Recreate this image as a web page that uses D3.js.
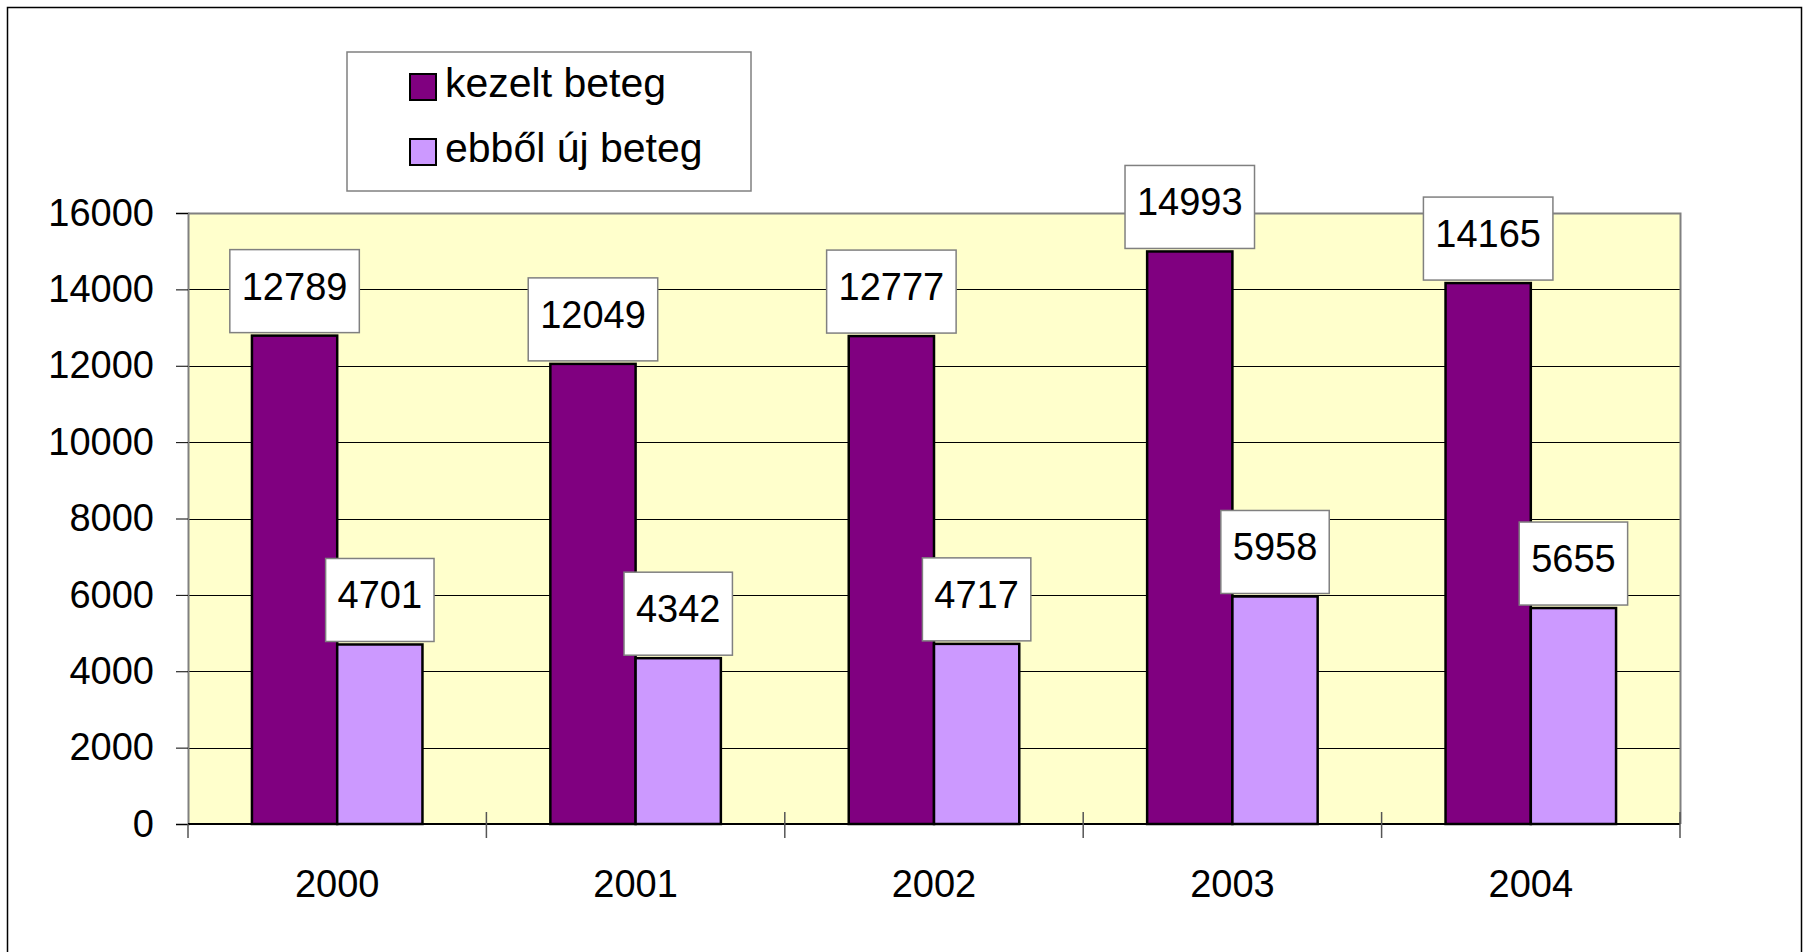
<!DOCTYPE html>
<html><head><meta charset="utf-8">
<script src="https://cdn.jsdelivr.net/npm/d3@7/dist/d3.min.js"></script>
<style>body{margin:0;background:#fff}svg{display:block}</style>
</head><body>
<svg id="c" width="1804" height="952"></svg>
<script>
const years = ["2000","2001","2002","2003","2004"];
const seriesNames = ["kezelt beteg","ebből új beteg"];
const kezelt = [12789,12049,12777,14993,14165];
const uj = [4701,4342,4717,5958,5655];
const yTicks = [0,2000,4000,6000,8000,10000,12000,14000,16000];
const colors = ["#800080","#CC99FF"];

const svg = d3.select("#c");
const font = "'Liberation Sans', Arial, sans-serif";
const L = 188, R = 1680, T = 213, B = 824;

// outer frame
svg.append("rect").attr("x",7.5).attr("y",7.5).attr("width",1794).attr("height",1000)
  .attr("fill","#fff").attr("stroke","#000").attr("stroke-width",1.5);

const x = d3.scaleBand().domain(years).range([L,R]).paddingInner(0).paddingOuter(0);
const y = d3.scaleLinear().domain([0,16000]).range([B,T]);
const bw = x.bandwidth()/3.5;

// plot area
svg.append("rect").attr("x",L).attr("y",T).attr("width",R-L).attr("height",B-T).attr("fill","#FFFFCC");
// gridlines
svg.append("g").selectAll("line").data(yTicks.filter(d=>d>0 && d<16000)).join("line")
  .attr("x1",L).attr("x2",R).attr("y1",d=>Math.round(y(d))+0.5).attr("y2",d=>Math.round(y(d))+0.5)
  .attr("stroke","#000").attr("stroke-width",1);
// plot border top/right
svg.append("path").attr("d",`M${L},${T+0.5}H${R+0.5}V${B}`).attr("fill","none").attr("stroke","#808080").attr("stroke-width",2);

// y axis
const yAxis = d3.axisLeft(y).tickValues(yTicks).tickSize(12).tickPadding(22).tickFormat(d3.format("d"));
const gy = svg.append("g").attr("transform",`translate(${L},0)`).call(yAxis);
gy.select(".domain").attr("stroke","#808080").attr("stroke-width",2);
gy.selectAll(".tick line").attr("stroke","#000");
gy.selectAll("text").attr("font-family",font).attr("font-size",38).attr("fill","#000");

// bars
const series = [kezelt, uj];
series.forEach((vals,si)=>{
  svg.append("g").selectAll("rect").data(vals).join("rect")
    .attr("x",(d,i)=>x(years[i]) + 0.75*bw + si*bw)
    .attr("y",d=>y(d))
    .attr("width",bw)
    .attr("height",d=>y(0)-y(d))
    .attr("fill",colors[si]).attr("stroke","#000").attr("stroke-width",2.5);
});

// x axis
svg.append("line").attr("x1",L).attr("x2",R).attr("y1",B).attr("y2",B).attr("stroke","#000").attr("stroke-width",2);
const xt = years.map((d)=>x(d)).concat([R]);
svg.append("g").selectAll("line").data(xt).join("line")
  .attr("x1",d=>d).attr("x2",d=>d).attr("y1",(d,i)=>i===0?B:B-12).attr("y2",B+14)
  .attr("stroke","#555").attr("stroke-width",1.5);
svg.append("g").selectAll("text").data(years).join("text")
  .attr("x",d=>x(d)+x.bandwidth()/2).attr("y",897).attr("text-anchor","middle")
  .attr("font-family",font).attr("font-size",38).text(d=>d);

// data labels
series.forEach((vals,si)=>{
  const g = svg.append("g");
  vals.forEach((v,i)=>{
    const cx = x(years[i]) + 0.75*bw + si*bw + bw/2;
    const txt = String(v);
    const w = txt.length*21.1 + 24;
    const h = 83;
    const bot = y(v) - 3;
    g.append("rect").attr("x",cx-w/2).attr("y",bot-h).attr("width",w).attr("height",h)
      .attr("fill","#fff").attr("stroke","#808080").attr("stroke-width",1.5);
    g.append("text").attr("x",cx).attr("y",bot-h+50).attr("text-anchor","middle")
      .attr("font-family",font).attr("font-size",38).text(txt);
  });
});

// legend
svg.append("rect").attr("x",347).attr("y",52).attr("width",404).attr("height",139)
  .attr("fill","#fff").attr("stroke","#808080").attr("stroke-width",1.5);
const ly = [97,162];
seriesNames.forEach((n,i)=>{
  svg.append("rect").attr("x",410).attr("y",ly[i]-23).attr("width",26).attr("height",26)
    .attr("fill",colors[i]).attr("stroke","#000").attr("stroke-width",2);
  svg.append("text").attr("x",445).attr("y",ly[i]).attr("font-family",font).attr("font-size",41).text(n);
});
</script>
</body></html>
